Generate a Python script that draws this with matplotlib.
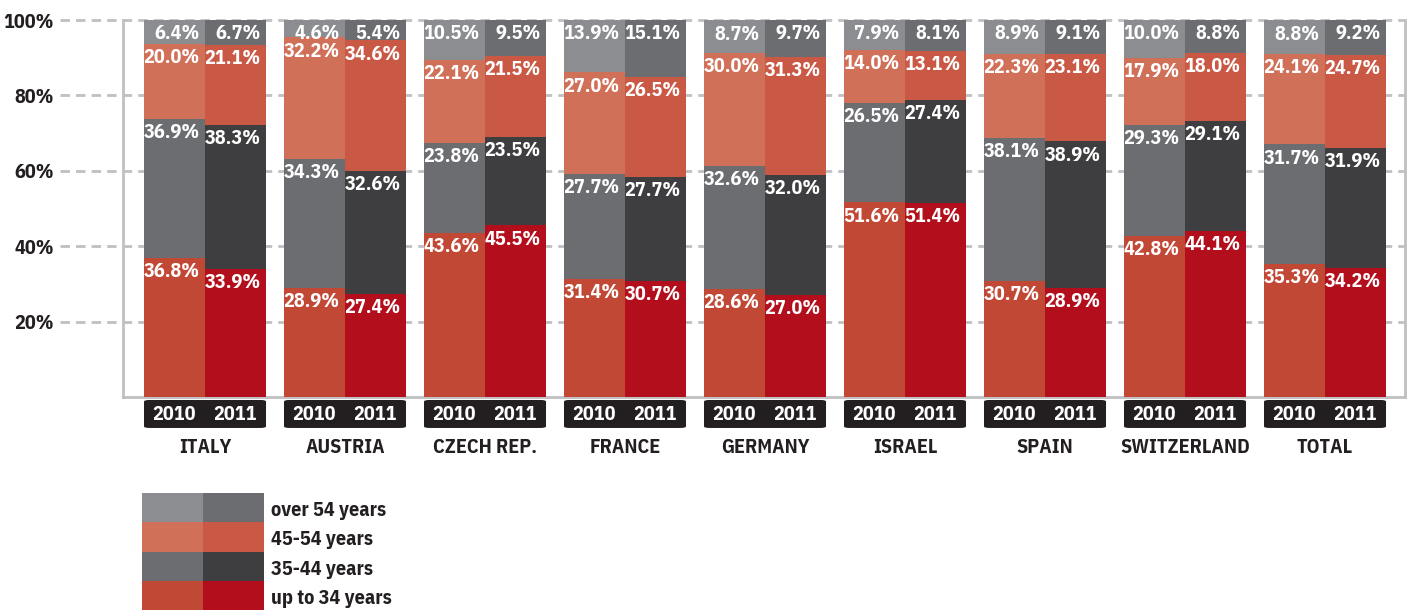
import numpy as np
import matplotlib
matplotlib.use('Agg')
from matplotlib import pyplot as plt
from matplotlib.patches import FancyBboxPatch
from matplotlib.transforms import blended_transform_factory

plt.rcParams['font.family'] = ['IBM Plex Sans Condensed', 'DejaVu Sans']
plt.rcParams['font.weight'] = 'bold'

countries = ['ITALY', 'AUSTRIA', 'CZECH REP.', 'FRANCE', 'GERMANY', 'ISRAEL', 'SPAIN', 'SWITZERLAND', 'TOTAL']
years = ['2010', '2011']
age_groups = ['up to 34 years', '35-44 years', '45-54 years', 'over 54 years']

# shares per country, bottom to top: up to 34, 35-44, 45-54, over 54
share_2010 = [
    [36.8, 36.9, 20.0, 6.4],
    [28.9, 34.3, 32.2, 4.6],
    [43.6, 23.8, 22.1, 10.5],
    [31.4, 27.7, 27.0, 13.9],
    [28.6, 32.6, 30.0, 8.7],
    [51.6, 26.5, 14.0, 7.9],
    [30.7, 38.1, 22.3, 8.9],
    [42.8, 29.3, 17.9, 10.0],
    [35.3, 31.7, 24.1, 8.8],
]
share_2011 = [
    [33.9, 38.3, 21.1, 6.7],
    [27.4, 32.6, 34.6, 5.4],
    [45.5, 23.5, 21.5, 9.5],
    [30.7, 27.7, 26.5, 15.1],
    [27.0, 32.0, 31.3, 9.7],
    [51.4, 27.4, 13.1, 8.1],
    [28.9, 38.9, 23.1, 9.1],
    [44.1, 29.1, 18.0, 8.8],
    [34.2, 31.9, 24.7, 9.2],
]

colors_2010 = ['#c24836', '#6c6d71', '#d07058', '#8c8d91']
colors_2011 = ['#b30e1b', '#3e3e40', '#c95945', '#6c6d71']

dark = '#231f20'
grid_col = '#c0c0c3'
fs = 14.5

fig = plt.figure(figsize=(14.13, 6.10), dpi=100)
W, H = 1413, 610
ax = fig.add_axes([123 / W, (H - 397) / H, (1405 - 123) / W, (397 - 20) / H])

bw = 61 / 140
n = len(countries)
x = np.arange(n)
ax.set_xlim(-82 / 140, n - 1 + 80 / 140)
ax.set_ylim(0, 100)

for data, cols, off in [(share_2010, colors_2010, -bw / 2), (share_2011, colors_2011, bw / 2)]:
    arr = np.array(data)
    bottom = np.zeros(n)
    for k in range(4):
        top = bottom + arr[:, k]
        ax.bar(x + off, arr[:, k], bw, bottom=bottom, color=cols[k], zorder=3, linewidth=0)
        for i in range(n):
            ax.annotate('%.1f%%' % arr[i, k], (x[i] + off + bw / 2, min(top[i], 100)),
                        xytext=(-4, -3), textcoords='offset points', ha='right', va='top',
                        color='white', fontsize=fs, fontweight='bold', zorder=5)
        bottom = top

# dashed gridlines extending past the frame on the left
trans = blended_transform_factory(ax.transAxes, ax.transData)
for yv in [20, 40, 60, 80, 100]:
    ax.plot([-63 / 1282, 1], [yv, yv], transform=trans, color=grid_col, lw=2,
            dashes=(3.4, 2.2), clip_on=False, zorder=1)

ax.set_yticks([20, 40, 60, 80, 100])
ax.set_yticklabels(['20%', '40%', '60%', '80%', '100%'], fontsize=fs, fontweight='bold', color=dark)
ax.tick_params(axis='y', length=0, pad=50)
ax.set_xticks([])

ax.spines['top'].set_visible(False)
for s in ['left', 'right', 'bottom']:
    ax.spines[s].set_color(grid_col)
    ax.spines[s].set_linewidth(2)

# year boxes and country names under the frame
for i in range(n):
    box = FancyBboxPatch((x[i] - bw + 0.02, -8.0), 2 * bw - 0.04, 7.0,
                         boxstyle='round,pad=0.02,rounding_size=0.04',
                         mutation_aspect=3.77 * 140 / 100 * 2,
                         facecolor=dark, edgecolor='none', clip_on=False, zorder=4)
    ax.add_patch(box)
    for off, yr in zip([-bw / 2, bw / 2], years):
        ax.text(x[i] + off, -4.6, yr, ha='center', va='center', color='white',
                fontsize=fs, fontweight='bold', clip_on=False, zorder=5)
    ax.text(x[i], -13.5, countries[i], ha='center', va='center', color=dark,
            fontsize=fs, fontweight='bold', clip_on=False)

# legend
lax = fig.add_axes([142 / W, 0, (264 - 142) / W, (610 - 493) / H])
lax.set_xlim(0, 2)
lax.set_ylim(0, 4)
lax.axis('off')
for k in range(4):
    lax.bar(0.5, 1, 1, bottom=k, color=colors_2010[k], linewidth=0)
    lax.bar(1.5, 1, 1, bottom=k, color=colors_2011[k], linewidth=0)
    lax.text(2.12, k + 0.4, age_groups[k], ha='left', va='center', color=dark,
             fontsize=fs, fontweight='bold', clip_on=False)

fig.savefig('out.png', dpi=100)
